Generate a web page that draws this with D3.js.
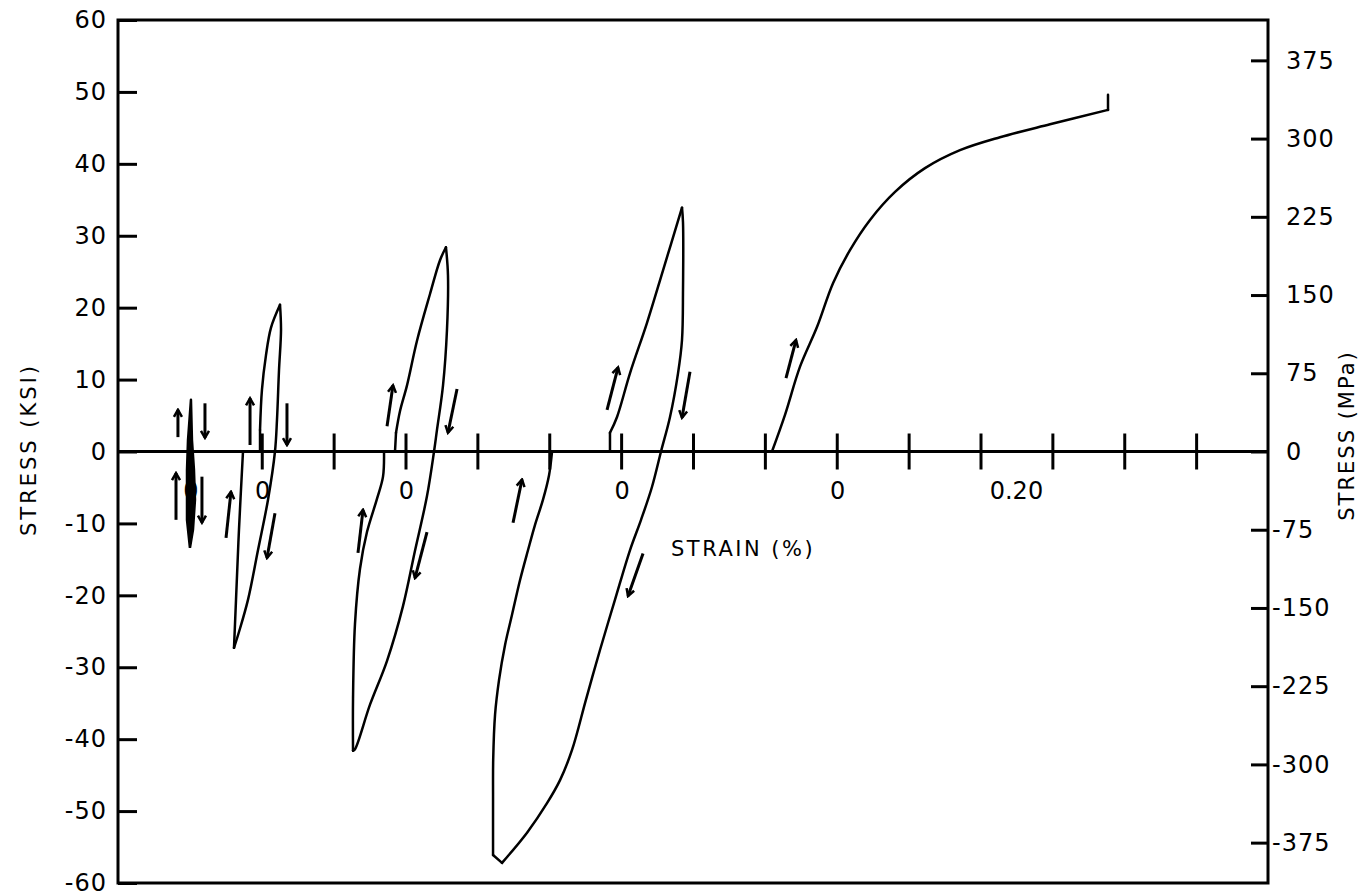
<!DOCTYPE html>
<html>
<head>
<meta charset="utf-8">
<script src="https://cdn.jsdelivr.net/npm/d3@7"></script>
<style>
  body { margin: 0; background: #fff; }
  text { font-family: "DejaVu Sans", sans-serif; fill: #000; }
</style>
</head>
<body>
<div id="chart-area"></div>
<script>

// strain axis: 0.1 per tick mark, each loop drawn from its own shifted origin
var loopOrigins = [0.1, 0.2, 0.4, 0.7, 1.0];

// all points are [local strain (%), stress (ksi)]
// first (smallest) loop is drawn as a filled sliver
var tinyLoop = [[0.0001,-13.4],[-0.0040,-9.5],[-0.0040,-2.6],[-0.0026,1.6],[0.0015,7.2],
    [0.0029,1.6],[0.0057,-2.6],[0.0071,-6.7],[0.0043,-10.9],[0.0001,-13.4]];

// each loop is split in branches so the corners stay sharp
var loop1 = [
    [[-0.0386,-27.3],[-0.0358,-20.6],[-0.0317,-10.9],[-0.0261,0]],
    [[-0.0261,0],[-0.0024,0],[-0.0024,3.0]],
    [[-0.0024,3.0],[0.0003,8.6],[0.0059,13.4],[0.0128,17.2],[0.0254,20.4]],
    [[0.0254,20.4],[0.0268,16.9],[0.0240,11.3],[0.0212,4.4],[0.0184,0],[0.0087,-6.7],
     [-0.0052,-13.7],[-0.0191,-20.6],[-0.0317,-25.1],[-0.0386,-27.3]]
];

var loop2 = [
    [[-0.0730,-41.6],[-0.0730,-34.3],[-0.0703,-24.0],[-0.0633,-16.3],[-0.0536,-11.2],
     [-0.0397,-6.6],[-0.0313,-3.5],[-0.0299,0]],
    [[-0.0299,0],[-0.0146,0],[-0.0132,2.6]],
    [[-0.0132,2.6],[-0.0077,5.6],[0.0021,9.2],[0.0160,15.4],[0.0341,21.9],[0.0480,26.6],[0.0563,28.4]],
    [[0.0563,28.4],[0.0591,24.5],[0.0577,16.9],[0.0522,9.2],[0.0438,3.0],[0.0397,0],[0.0299,-6.2],
     [0.0132,-13.8],[-0.0035,-21.5],[-0.0257,-29.1],[-0.0494,-35.2],[-0.0703,-41.4],[-0.0730,-41.6]]
];

var loop3 = [
    [[-0.1657,-57.2],[-0.1782,-56.1]],
    [[-0.1782,-56.1],[-0.1782,-48.0],[-0.1780,-42.9],[-0.1754,-36.6],[-0.1699,-31.8],
     [-0.1615,-26.9],[-0.1518,-22.7],[-0.1407,-17.9],[-0.1295,-13.7],[-0.1198,-10.2],
     [-0.1087,-6.7],[-0.1003,-3.3],[-0.0961,0]],
    [[-0.0961,0],[-0.0155,0],[-0.0155,2.6]],
    [[-0.0155,2.6],[-0.0057,4.8],[0.0124,10.9],[0.0360,17.9],[0.0583,25.2],[0.0847,33.9]],
    [[0.0847,33.9],[0.0861,31.8],[0.0861,22.5],[0.0847,15.5],[0.0792,10.9],[0.0680,4.8],[0.0555,0],
     [0.0430,-4.9],[0.0277,-9.5],[0.0124,-13.7],[-0.0085,-20.6],[-0.0294,-27.6],[-0.0489,-34.5],
     [-0.0683,-41.5],[-0.0850,-45.7],[-0.1031,-48.9],[-0.1309,-53.0],[-0.1657,-57.2]]
];

var monotonic = [
    [[-0.0901,0],[-0.0720,5.1],[-0.0511,11.8],[-0.0275,17.3],[-0.0052,23.4],
     [0.0184,28.0],[0.0463,32.2],[0.0811,36.1],[0.1228,39.4],[0.1715,41.9],
     [0.2271,43.7],[0.2967,45.5],[0.3774,47.5]],
    [[0.3774,47.5],[0.3774,49.6]]
];

// direction arrows: [loop index, strain0, stress0, strain1, stress1]
var arrows = [
    [0,-0.0166,2.0,-0.0166,5.8],[0,0.0210,6.7,0.0210,1.9],[0,-0.0193,-9.5,-0.0193,-3.0],[0,0.0168,-3.5,0.0168,-9.9],
    [1,-0.0163,0.9,-0.0163,7.4],[1,0.0351,6.7,0.0351,0.9],[1,-0.0497,-12.0,-0.0428,-5.6],[1,0.0184,-8.6,0.0073,-14.8],
    [2,-0.0257,3.5,-0.0174,9.2],[2,0.0717,8.7,0.0591,2.6],[2,-0.0661,-14.1,-0.0591,-8.1],[2,0.0299,-11.2,0.0132,-17.6],
    [3,-0.0196,5.8,-0.0043,11.7],[3,0.0958,11.1,0.0847,4.7],[3,-0.1504,-9.9,-0.1379,-3.9],[3,0.0305,-14.2,0.0096,-20.1],
    [4,-0.0706,10.2,-0.0567,15.5]
];

var ksiTicks = [60, 50, 40, 30, 20, 10, 0, -10, -20, -30, -40, -50, -60];
var mpaTicks = [375, 300, 225, 150, 75, 0, -75, -150, -225, -300, -375];
var strainTicks = d3.range(1, 16).map(function(i) { return i / 10; });
var zeroLabels = [0.1, 0.2, 0.4, 0.7, 1.0];
var strainLabel = [{v: 1.25, t: "0.20"}];

var KSI_TO_MPA = 6.895;

var svg = d3.select("#chart-area")
    .append("svg")
    .attr("width", 1365)
    .attr("height", 896);

var x = d3.scaleLinear().domain([0, 1.6]).range([118, 1268]);
var y = d3.scaleLinear().domain([-60, 60]).range([883, 20]);
var yMpa = d3.scaleLinear().domain([-60 * KSI_TO_MPA, 60 * KSI_TO_MPA]).range([883, 20]);

// plain hyphen like the drawing, not a unicode minus
var fmt = function(d) { return String(d); };

// frame
svg.append("rect")
    .attr("x", x(0)).attr("y", y(60))
    .attr("width", x(1.6) - x(0)).attr("height", y(-60) - y(60))
    .attr("fill", "none").attr("stroke", "#000").attr("stroke-width", 3);

// left axis, ticks inside
var leftAxis = svg.append("g")
    .attr("transform", "translate(" + x(0) + ",0)")
    .call(d3.axisLeft(y).tickValues(ksiTicks).tickFormat(fmt)
        .tickSizeInner(-19).tickSizeOuter(0).tickPadding(11));
leftAxis.select(".domain").remove();
leftAxis.selectAll("line").attr("stroke", "#000").attr("stroke-width", 3);
leftAxis.selectAll("text").style("font-size", "24px").style("letter-spacing", "1px")
    .style("font-family", "DejaVu Sans");

// right axis (MPa)
var rightAxis = svg.append("g")
    .attr("transform", "translate(" + x(1.6) + ",0)")
    .call(d3.axisRight(yMpa).tickValues(mpaTicks).tickFormat(fmt)
        .tickSizeInner(-17).tickSizeOuter(0).tickPadding(18));
rightAxis.select(".domain").remove();
rightAxis.selectAll("line").attr("stroke", "#000").attr("stroke-width", 3);
rightAxis.selectAll("text").style("font-size", "24px").style("letter-spacing", "1px")
    .style("font-family", "DejaVu Sans")
    .attr("x", function(d) { return d < 0 ? 4 : 18; });

// strain axis along zero stress
svg.append("line")
    .attr("x1", x(0)).attr("x2", x(1.6))
    .attr("y1", y(0)).attr("y2", y(0))
    .attr("stroke", "#000").attr("stroke-width", 3);

var xAxis = svg.append("g")
    .attr("transform", "translate(0," + (y(0) - 18) + ")")
    .call(d3.axisBottom(x).tickValues(strainTicks).tickSize(36).tickFormat(""));
xAxis.select(".domain").remove();
xAxis.selectAll("line").attr("stroke", "#000").attr("stroke-width", 3);

svg.selectAll(".zero-label")
    .data(zeroLabels)
    .enter().append("text")
    .attr("class", "zero-label")
    .attr("x", function(d) { return x(d) + 1; })
    .attr("y", y(0) + 47)
    .attr("text-anchor", "middle")
    .style("font-size", "24px")
    .text("0");

svg.selectAll(".strain-label")
    .data(strainLabel)
    .enter().append("text")
    .attr("class", "strain-label")
    .attr("x", function(d) { return x(d.v); })
    .attr("y", y(0) + 47)
    .attr("text-anchor", "middle")
    .style("font-size", "24px")
    .text(function(d) { return d.t; });

// curves
svg.append("path")
    .datum(tinyLoop)
    .attr("d", d3.line()
        .x(function(d) { return x(loopOrigins[0] + d[0]); })
        .y(function(d) { return y(d[1]); }))
    .attr("fill", "#000")
    .attr("stroke", "#000")
    .attr("stroke-width", 2.5)
    .attr("stroke-linejoin", "round");

var loops = [null, loop1, loop2, loop3, monotonic];

loops.forEach(function(branches, i) {
    if (!branches) return;
    var smooth = d3.line()
        .x(function(d) { return x(loopOrigins[i] + d[0]); })
        .y(function(d) { return y(d[1]); })
        .curve(d3.curveCatmullRom.alpha(0.5));
    var straight = d3.line()
        .x(function(d) { return x(loopOrigins[i] + d[0]); })
        .y(function(d) { return y(d[1]); });
    svg.selectAll(".branch-" + i)
        .data(branches)
        .enter().append("path")
        .attr("class", "branch-" + i)
        // short branches (flat parts along the axis, corners) stay straight
        .attr("d", function(d) { return d.length > 3 ? smooth(d) : straight(d); })
        .attr("fill", "none")
        .attr("stroke", "#000")
        .attr("stroke-width", 2.5)
        .attr("stroke-linejoin", "round")
        .attr("stroke-linecap", "round");
});

// arrows
svg.append("defs").append("marker")
    .attr("id", "head")
    .attr("viewBox", "-10 -6 12 12")
    .attr("refX", 0).attr("refY", 0)
    .attr("markerWidth", 12).attr("markerHeight", 12)
    .attr("markerUnits", "userSpaceOnUse")
    .attr("orient", "auto")
    .append("path")
    .attr("d", "M-7,-4L0,0L-7,4")
    .attr("fill", "none")
    .attr("stroke", "#000")
    .attr("stroke-width", 2.5);

svg.selectAll(".arrow")
    .data(arrows)
    .enter().append("line")
    .attr("class", "arrow")
    .attr("x1", function(d) { return x(loopOrigins[d[0]] + d[1]); })
    .attr("y1", function(d) { return y(d[2]); })
    .attr("x2", function(d) { return x(loopOrigins[d[0]] + d[3]); })
    .attr("y2", function(d) { return y(d[4]); })
    .attr("stroke", "#000")
    .attr("stroke-width", 3)
    .attr("marker-end", "url(#head)");

// axis titles
svg.append("text")
    .attr("transform", "translate(36," + (y(0) - 2) + ") rotate(-90)")
    .attr("text-anchor", "middle")
    .style("font-size", "21px")
    .style("letter-spacing", "3px")
    .text("STRESS (KSI)");

svg.append("text")
    .attr("transform", "translate(1354," + (y(0) - 16) + ") rotate(-90)")
    .attr("text-anchor", "middle")
    .style("font-size", "21px")
    .style("letter-spacing", "2px")
    .text("STRESS (MPa)");

svg.append("text")
    .attr("x", x(0.7) + 122)
    .attr("y", y(-14.5))
    .attr("text-anchor", "middle")
    .style("font-size", "21px")
    .style("letter-spacing", "2.5px")
    .text("STRAIN  (%)");

</script>
</body>
</html>
